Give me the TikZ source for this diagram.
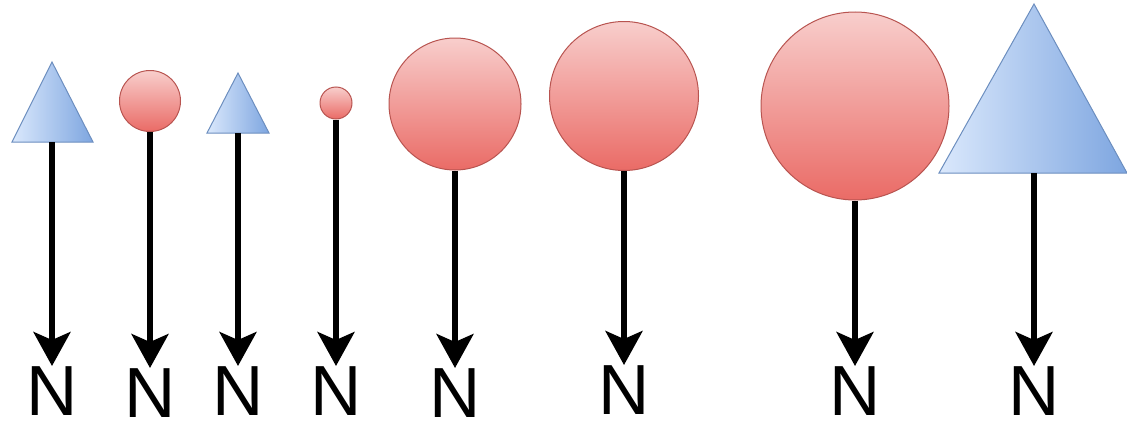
\documentclass[tikz,border=0pt]{standalone}
\usepackage{fontspec}
\setmainfont{Liberation Sans}
\usetikzlibrary{arrows.meta}
\definecolor{blueA}{HTML}{DAE8FC}
\definecolor{blueB}{HTML}{7EA6E0}
\definecolor{blueS}{HTML}{6C8EBF}
\definecolor{redA}{HTML}{F8CECC}
\definecolor{redB}{HTML}{EA6B66}
\definecolor{redS}{HTML}{B85450}
\begin{document}
\begin{tikzpicture}[x=1pt,y=-1pt,
  ball/.style={circle,draw=redS,line width=1pt,top color=redA,bottom color=redB,inner sep=0pt},
  tri/.style={draw=blueS,line width=1pt,left color=blueA,right color=blueB,line join=miter},
  lab/.style={anchor=north,inner sep=0pt,font=\fontsize{71}{76}\selectfont},
  force/.style={line width=5.5pt,-{Stealth[length=34pt,width=37pt,inset=8pt]}}]
\useasboundingbox (0,0) rectangle (1127,423);

% triangles drawn as paths, with a coordinate at the middle of each base
\shadedraw[tri] (52,62) -- (93,142) -- (12,142) -- cycle;
\coordinate (t1) at (52,142);
\shadedraw[tri] (238,73) -- (269,133) -- (207,133) -- cycle;
\coordinate (t2) at (238,133);
\shadedraw[tri] (1034,4) -- (1127,173) -- (939,173) -- cycle;
\coordinate (t3) at (1034,173);

% balls
\node[ball,minimum size=61pt] (c1) at (150,101) {};
\node[ball,minimum size=32pt] (c2) at (336,103) {};
\node[ball,minimum size=132pt] (c3) at (455,104) {};
\node[ball,minimum size=149pt] (c4) at (624,96) {};
\node[ball,minimum size=188pt] (c5) at (855,106) {};

% labels
\node[lab] (n1) at (52,366) {N};
\node[lab] (n2) at (150,368) {N};
\node[lab] (n3) at (238,366) {N};
\node[lab] (n4) at (336,366) {N};
\node[lab] (n5) at (455,368) {N};
\node[lab] (n6) at (624,365) {N};
\node[lab] (n7) at (855,366) {N};
\node[lab] (n8) at (1034,366) {N};

% force arrows
\draw[force] (t1) -- (n1.north);
\draw[force] (c1.south) -- (n2.north);
\draw[force] (t2) -- (n3.north);
\draw[force] (c2.south) -- (n4.north);
\draw[force] (c3.south) -- (n5.north);
\draw[force] (c4.south) -- (n6.north);
\draw[force] (c5.south) -- (n7.north);
\draw[force] (t3) -- (n8.north);
\end{tikzpicture}
\end{document}
